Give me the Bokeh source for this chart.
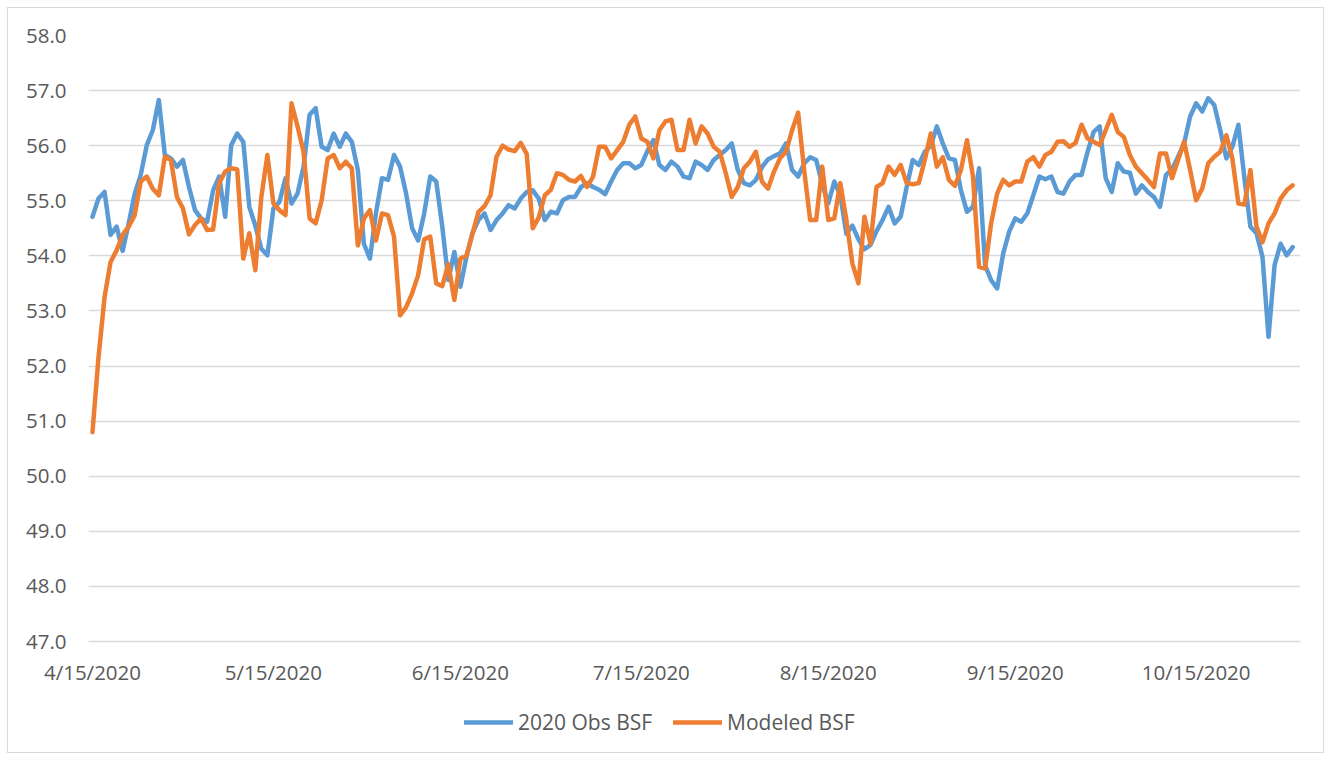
import pandas as pd
from bokeh.plotting import figure
from bokeh.layouts import column
from bokeh.models import Range1d, FixedTicker, Legend, LegendItem, PrintfTickFormatter
from bokeh.embed import file_html
from bokeh.resources import INLINE

start_date = "2020-04-15"

obs_bsf = [
    54.71, 55.04, 55.16, 54.38, 54.53, 54.09, 54.59, 55.13, 55.47, 56.01,
    56.28, 56.83, 55.83, 55.77, 55.62, 55.74, 55.25, 54.83, 54.68, 54.62,
    55.19, 55.44, 54.71, 56.01, 56.22, 56.07, 54.89, 54.55, 54.13, 54.01,
    54.86, 54.98, 55.41, 54.95, 55.13, 55.62, 56.56, 56.68, 55.98, 55.92,
    56.22, 55.98, 56.22, 56.07, 55.56, 54.22, 53.95, 54.77, 55.41, 55.38,
    55.83, 55.62, 55.13, 54.50, 54.28, 54.77, 55.44, 55.35, 54.53, 53.56,
    54.07, 53.44, 53.98, 54.41, 54.65, 54.77, 54.47, 54.65, 54.77, 54.92,
    54.86, 55.04, 55.16, 55.19, 55.04, 54.65, 54.80, 54.77, 55.01, 55.07,
    55.07, 55.25, 55.32, 55.25, 55.20, 55.12, 55.35, 55.56, 55.68, 55.68,
    55.59, 55.65, 55.90, 56.10, 55.65, 55.56, 55.71, 55.62, 55.44, 55.41,
    55.71, 55.65, 55.56, 55.74, 55.83, 55.92, 56.04, 55.56, 55.32, 55.28,
    55.38, 55.61, 55.75, 55.81, 55.86, 56.04, 55.56, 55.44, 55.68, 55.79,
    55.74, 55.30, 54.95, 55.35, 55.10, 54.40, 54.55, 54.30, 54.12, 54.20,
    54.45, 54.65, 54.89, 54.59, 54.71, 55.25, 55.74, 55.65, 55.89, 56.00,
    56.35, 56.04, 55.77, 55.74, 55.19, 54.80, 54.89, 55.59, 53.83, 53.56,
    53.41, 54.04, 54.44, 54.68, 54.62, 54.77, 55.10, 55.44, 55.39, 55.44,
    55.16, 55.13, 55.35, 55.47, 55.47, 55.89, 56.25, 56.35, 55.41, 55.16,
    55.68, 55.53, 55.51, 55.13, 55.28, 55.16, 55.07, 54.89, 55.47, 55.57,
    55.80, 56.04, 56.53, 56.77, 56.62, 56.86, 56.74, 56.28, 55.77, 55.98,
    56.38, 55.41, 54.53, 54.41, 53.98, 52.53, 53.83, 54.22, 54.01, 54.16,
]

modeled_bsf = [
    50.80, 52.16, 53.25, 53.89, 54.10, 54.38, 54.53, 54.74, 55.35, 55.44,
    55.22, 55.10, 55.80, 55.74, 55.07, 54.86, 54.39, 54.56, 54.68, 54.47,
    54.48, 55.32, 55.53, 55.59, 55.57, 53.95, 54.41, 53.74, 55.07, 55.83,
    54.95, 54.83, 54.74, 56.77, 56.35, 55.89, 54.68, 54.59, 55.01, 55.77,
    55.83, 55.59, 55.71, 55.59, 54.19, 54.68, 54.83, 54.28, 54.77, 54.74,
    54.35, 52.92, 53.07, 53.32, 53.65, 54.30, 54.35, 53.50, 53.45, 53.85,
    53.20, 53.95, 54.00, 54.40, 54.80, 54.90, 55.10, 55.80, 56.00, 55.93,
    55.90, 56.05, 55.85, 54.50, 54.70, 55.10, 55.20, 55.50, 55.47, 55.38,
    55.35, 55.45, 55.25, 55.44, 55.98, 55.98, 55.77, 55.92, 56.07, 56.38,
    56.53, 56.13, 56.07, 55.77, 56.28, 56.44, 56.47, 55.92, 55.92, 56.47,
    56.04, 56.35, 56.22, 55.98, 55.89, 55.50, 55.07, 55.25, 55.59, 55.71,
    55.89, 55.35, 55.22, 55.53, 55.77, 55.89, 56.28, 56.60, 55.56, 54.65,
    54.65, 55.62, 54.65, 54.68, 55.32, 54.65, 53.86, 53.50, 54.71, 54.22,
    55.25, 55.32, 55.62, 55.47, 55.65, 55.32, 55.30, 55.32, 55.74, 56.22,
    55.62, 55.79, 55.38, 55.27, 55.56, 56.10, 55.44, 53.80, 53.77, 54.59,
    55.13, 55.38, 55.28, 55.35, 55.35, 55.71, 55.79, 55.62, 55.83, 55.89,
    56.07, 56.08, 55.98, 56.05, 56.38, 56.13, 56.07, 56.01, 56.28, 56.56,
    56.25, 56.16, 55.83, 55.62, 55.50, 55.38, 55.25, 55.86, 55.86, 55.41,
    55.74, 56.07, 55.56, 55.01, 55.22, 55.68, 55.80, 55.89, 56.19, 55.77,
    54.95, 54.93, 55.56, 54.53, 54.25, 54.59, 54.77, 55.04, 55.19, 55.28,
]

tick_dates = ["2020-04-15", "2020-05-15", "2020-06-15", "2020-07-15",
              "2020-08-15", "2020-09-15", "2020-10-15"]
tick_labels = ["4/15/2020", "5/15/2020", "6/15/2020", "7/15/2020",
               "8/15/2020", "9/15/2020", "10/15/2020"]
y_ticks = [47.0, 48.0, 49.0, 50.0, 51.0, 52.0, 53.0, 54.0, 55.0, 56.0, 57.0, 58.0]
series_names = ["2020 Obs BSF", "Modeled BSF"]
series_colors = ["#5B9BD5", "#ED7D31"]

dates = pd.date_range(start_date, periods=len(obs_bsf), freq="D")
day = [int((d - dates[0]).days) for d in dates]
tick_pos = [int((pd.Timestamp(t) - dates[0]).days) for t in tick_dates]

FONT = "Open Sans"
TXT = "#595959"
GRID = "#d9d9d9"
FS = "20.5px"
LW = 4.5

# ---- main chart ----
p = figure(width=1315, height=700, output_backend="svg", toolbar_location=None,
           x_range=Range1d(-0.66, 200.3), y_range=Range1d(47, 58),
           min_border_left=80, min_border_right=23, min_border_top=27, min_border_bottom=67)
p.outline_line_color = None
p.background_fill_color = "white"
p.border_fill_color = "white"

p.xaxis.ticker = FixedTicker(ticks=tick_pos)
p.xaxis.major_label_overrides = {tp: lab for tp, lab in zip(tick_pos, tick_labels)}
p.yaxis.ticker = FixedTicker(ticks=y_ticks)
p.yaxis.formatter = PrintfTickFormatter(format="%.1f")

for ax in (p.xaxis[0], p.yaxis[0]):
    ax.major_tick_line_color = None
    ax.minor_tick_line_color = None
    ax.major_tick_out = 0
    ax.major_tick_in = 0
    ax.minor_tick_out = 0
    ax.minor_tick_in = 0
    ax.major_label_text_font = FONT
    ax.major_label_text_font_size = FS
    ax.major_label_text_color = TXT
p.yaxis.axis_line_color = None
p.xaxis.axis_line_color = GRID
p.xaxis.axis_line_width = 1.3
p.yaxis.major_label_standoff = 22
p.xaxis.major_label_standoff = 16

p.xgrid.grid_line_color = None
p.ygrid.grid_line_color = GRID
p.ygrid.grid_line_width = 1.3

p.line(day, obs_bsf, line_color=series_colors[0], line_width=LW,
       line_join="round", line_cap="round")
p.line(day, modeled_bsf, line_color=series_colors[1], line_width=LW,
       line_join="round", line_cap="round")

# ---- legend strip ----
q = figure(width=1315, height=44, output_backend="svg", toolbar_location=None,
           x_axis_type=None, y_axis_type=None, min_border=0,
           x_range=Range1d(0, 1), y_range=Range1d(0, 1))
q.outline_line_color = None
q.grid.visible = False
nan = float("nan")
k1 = q.line([nan], [nan], line_color=series_colors[0], line_width=LW, line_cap="round")
k2 = q.line([nan], [nan], line_color=series_colors[1], line_width=LW, line_cap="round")
legend = Legend(items=[LegendItem(label=series_names[0], renderers=[k1]),
                       LegendItem(label=series_names[1], renderers=[k2])],
                orientation="horizontal", location=(376, 16),
                padding=0, margin=0, spacing=21, glyph_width=49, glyph_height=20,
                label_standoff=5, label_text_font=FONT, label_text_font_size="21px",
                label_text_color=TXT, border_line_color=None, background_fill_alpha=0)
q.add_layout(legend, "center")

layout = column(p, q, spacing=0,
                styles={"border": "1px solid #d9d9d9", "margin-left": "7px", "margin-top": "7px"})

open("out.html", "w").write(file_html(layout, INLINE))
